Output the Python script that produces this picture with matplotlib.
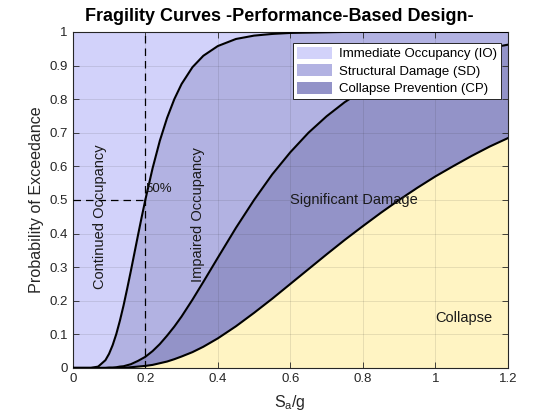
import matplotlib
matplotlib.use("Agg")
import matplotlib.pyplot as plt
from matplotlib.patches import Patch
from matplotlib.ticker import FuncFormatter

plt.rcParams['font.family'] = ['Liberation Sans', 'DejaVu Sans']
plt.rcParams['mathtext.default'] = 'regular'

# Spectral acceleration Sa/g
sa = [0.00, 0.05, 0.07, 0.09, 0.10, 0.11, 0.12, 0.13, 0.14, 0.15, 0.16, 0.17,
      0.18, 0.19, 0.20, 0.22, 0.24, 0.26, 0.28, 0.30, 0.33, 0.36, 0.40, 0.45,
      0.50, 0.55, 0.60, 0.65, 0.70, 0.75, 0.80, 0.85, 0.90, 0.95, 1.00, 1.05,
      1.10, 1.15, 1.20]

# Probability of exceedance, Immediate Occupancy
p_io = [0.000, 0.000, 0.004, 0.023, 0.042, 0.068, 0.101, 0.141, 0.186, 0.236,
        0.288, 0.342, 0.396, 0.449, 0.500, 0.594, 0.676, 0.744, 0.800, 0.845,
        0.895, 0.929, 0.958, 0.979, 0.989, 0.994, 0.997, 0.998, 0.999, 1.000,
        1.000, 1.000, 1.000, 1.000, 1.000, 1.000, 1.000, 1.000, 1.000]

# Structural Damage
p_sd = [0.000, 0.000, 0.000, 0.000, 0.001, 0.001, 0.002, 0.004, 0.005, 0.008,
        0.011, 0.016, 0.021, 0.027, 0.033, 0.050, 0.071, 0.096, 0.123, 0.153,
        0.203, 0.256, 0.328, 0.417, 0.500, 0.576, 0.642, 0.700, 0.749, 0.791,
        0.826, 0.856, 0.880, 0.900, 0.917, 0.931, 0.943, 0.952, 0.962]

# Collapse Prevention
p_cp = [0.000, 0.000, 0.000, 0.000, 0.000, 0.000, 0.000, 0.001, 0.001, 0.001,
        0.002, 0.003, 0.004, 0.005, 0.006, 0.009, 0.014, 0.019, 0.026, 0.034,
        0.047, 0.063, 0.088, 0.124, 0.164, 0.206, 0.250, 0.294, 0.338, 0.381,
        0.422, 0.462, 0.500, 0.536, 0.570, 0.601, 0.631, 0.659, 0.684]

legend_labels = ["Immediate Occupancy (IO)", "Structural Damage (SD)",
                 "Collapse Prevention (CP)"]
x_ticks = [0, 0.2, 0.4, 0.6, 0.8, 1.0, 1.2]
y_ticks = [0, 0.1, 0.2, 0.3, 0.4, 0.5, 0.6, 0.7, 0.8, 0.9, 1.0]

c_io = '#d2d2fa'
c_sd = '#b2b2e2'
c_cp = '#9393c8'
c_col = '#fff4c3'
ink = '#262626'

fig = plt.figure(figsize=(5.6, 4.2), dpi=100)
ax = fig.add_axes([0.13, 0.124, 0.777, 0.8])

ax.fill_between(sa, p_io, 1, color=c_io, lw=0)
ax.fill_between(sa, p_sd, p_io, color=c_sd, lw=0)
ax.fill_between(sa, p_cp, p_sd, color=c_cp, lw=0)
ax.fill_between(sa, 0, p_cp, color=c_col, lw=0)

for p in (p_io, p_sd, p_cp):
    ax.plot(sa, p, color='black', lw=1.5, zorder=3)

ax.plot([0.2, 0.2], [0, 1], color='black', ls=(0, (6, 4)), lw=0.9, zorder=3)
ax.plot([0, 0.2], [0.5, 0.5], color='black', ls=(0, (6, 4)), lw=0.9, zorder=3)
ax.text(0.2, 0.515, '50%', fontsize=9.5, ha='left', va='bottom', color='#1a1a1a')

ax.text(0.075, 0.45, 'Continued Occupancy', rotation=90, fontsize=10.5,
        ha='center', va='center', color='#1a1a1a')
ax.text(0.345, 0.455, 'Impaired Occupancy', rotation=90, fontsize=10.5,
        ha='center', va='center', color='#1a1a1a')
ax.text(0.60, 0.50, 'Significant Damage', fontsize=10.5, ha='left',
        va='center', color='#1a1a1a')
ax.text(1.0, 0.148, 'Collapse', fontsize=10.5, ha='left', va='center',
        color='#1a1a1a')

ax.set_xlim(0, 1.2)
ax.set_ylim(0, 1)
ax.set_xticks(x_ticks)
ax.set_yticks(y_ticks)
ax.xaxis.set_major_formatter(FuncFormatter(lambda v, _: '%g' % v))
ax.yaxis.set_major_formatter(FuncFormatter(lambda v, _: '%g' % v))
ax.tick_params(direction='in', top=True, right=True, length=4, width=0.6,
               colors=ink, labelsize=9.5, labelcolor=ink)
for s in ax.spines.values():
    s.set_color(ink)
    s.set_linewidth(0.8)
ax.grid(True, color=ink, alpha=0.13, lw=0.6)
ax.set_axisbelow(False)

ax.set_xlabel(r'S$_{a}$/g', fontsize=11.5, color=ink, labelpad=6)
ax.set_ylabel('Probability of Exceedance', fontsize=11.6, color=ink, labelpad=4)
ax.set_title('Fragility Curves -Performance-Based Design-', fontsize=13,
             fontweight='bold', color='black', pad=8, x=0.474)

handles = [Patch(facecolor=c, edgecolor='none') for c in (c_io, c_sd, c_cp)]
leg = ax.legend(handles, legend_labels, loc='upper right',
                bbox_to_anchor=(0.984, 0.967), fontsize=9.5,
                frameon=True, fancybox=False, framealpha=1, edgecolor=ink,
                borderaxespad=0, handlelength=2.7, handleheight=1.0,
                labelspacing=0.3, borderpad=0.3, handletextpad=0.5)
leg.get_frame().set_linewidth(0.7)
leg.set_zorder(5)

fig.savefig('out.png', dpi=100)
